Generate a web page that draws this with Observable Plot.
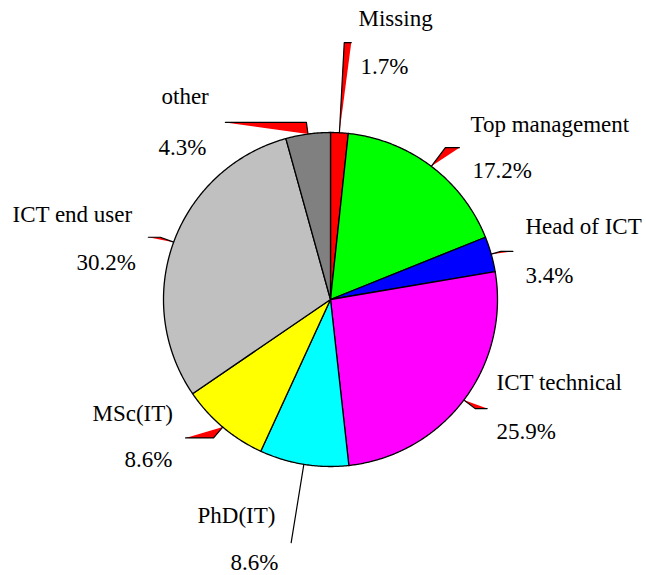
<!DOCTYPE html>
<html>
<head>
<meta charset="utf-8">
<script src="https://cdn.jsdelivr.net/npm/d3@7"></script>
<script src="https://cdn.jsdelivr.net/npm/@observablehq/plot@0.6"></script>
<style>
  html, body { margin: 0; padding: 0; background: #fff; }
  #chart svg { display: block; }
  #chart svg text { font-family: "Liberation Serif", "Times New Roman", serif !important; }
</style>
</head>
<body>
<div id="chart"></div>
<script>
// ---- data ----
const categories = ["Missing", "Top management", "Head of ICT", "ICT technical", "PhD(IT)", "MSc(IT)", "ICT end user", "other"];
const percents = [1.7, 17.2, 3.4, 25.9, 8.6, 8.6, 30.2, 4.3];
const percentLabels = ["1.7%", "17.2%", "3.4%", "25.9%", "8.6%", "8.6%", "30.2%", "4.3%"];

// ---- styles / layout ----
const sliceColors = ["#ff0000", "#00ff00", "#0000ff", "#ff00ff", "#00ffff", "#ffff00", "#c0c0c0", "#808080"];
const R = 167; // pie radius in plot units (1 unit = 1 px)
const pointerRadius = [1.54, 1.14, 1.06, 1.085, 1.475, 1.085, 1.085, 1.07]; // elbow radius (x R)
const pointerRun = [7, 14, 12, 12, 0, -28, -12, -81]; // horizontal run after elbow
const nameOffset = [[28, -281], [140, -175], [195, -73], [166, 83], [-133, 216], [-238, 114], [-318, -85], [-169, -203]];
const pctOffset = [[30, -233], [142, -129], [195, -24], [166, 132], [-100, 263], [-206, 160], [-254, -37], [-172, -152]];

// ---- geometry via d3.pie ----
const arcs = d3.pie().sort(null).startAngle(0).endAngle(2 * Math.PI)(percents);
const pt = (a, r) => [r * Math.sin(a), -r * Math.cos(a)];

const slicePts = [];
arcs.forEach((a, i) => {
  const n = Math.max(2, Math.ceil((a.endAngle - a.startAngle) / (Math.PI / 360)));
  slicePts.push({k: i, x: 0, y: 0});
  for (let j = 0; j <= n; j++) {
    const ang = a.startAngle + (a.endAngle - a.startAngle) * j / n;
    const [x, y] = pt(ang, R);
    slicePts.push({k: i, x, y});
  }
  slicePts.push({k: i, x: 0, y: 0});
});

const pointerPts = [];
arcs.forEach((a, i) => {
  const mid = (a.startAngle + a.endAngle) / 2;
  const [tx, ty] = pt(mid, R);
  const [ex, ey] = pt(mid, R * pointerRadius[i]);
  pointerPts.push({k: i, x: tx, y: ty});
  pointerPts.push({k: i, x: ex, y: ey});
  pointerPts.push({k: i, x: ex + pointerRun[i], y: ey});
});

const labels = categories.flatMap((c, i) => [
  {text: c, x: nameOffset[i][0], y: nameOffset[i][1]},
  {text: percentLabels[i], x: pctOffset[i][0], y: pctOffset[i][1]}
]);

const chart = Plot.plot({
  width: 646,
  height: 575,
  margin: 0,
  x: {domain: [-330, 316], range: [0, 646], axis: null},
  y: {domain: [-299, 276], range: [0, 575], axis: null},
  color: {type: "identity"},
  style: {background: "#fff", fontFamily: "'Liberation Serif', 'Times New Roman', serif"},
  marks: [
    Plot.line(slicePts, {x: "x", y: "y", z: "k", fill: d => sliceColors[d.k], stroke: "#000", strokeWidth: 1.3, strokeLinejoin: "round"}),
    Plot.line(pointerPts, {x: "x", y: "y", z: "k", fill: "#ff0000", stroke: "none"}),
    Plot.line(pointerPts, {x: "x", y: "y", z: "k", stroke: "#000", strokeWidth: 1.2}),
    Plot.text(labels, {x: "x", y: "y", text: "text", textAnchor: "start", fontSize: 23, fontFamily: "'Liberation Serif', 'Times New Roman', serif", fill: "#000"})
  ]
});
document.getElementById("chart").appendChild(chart);
</script>
</body>
</html>
